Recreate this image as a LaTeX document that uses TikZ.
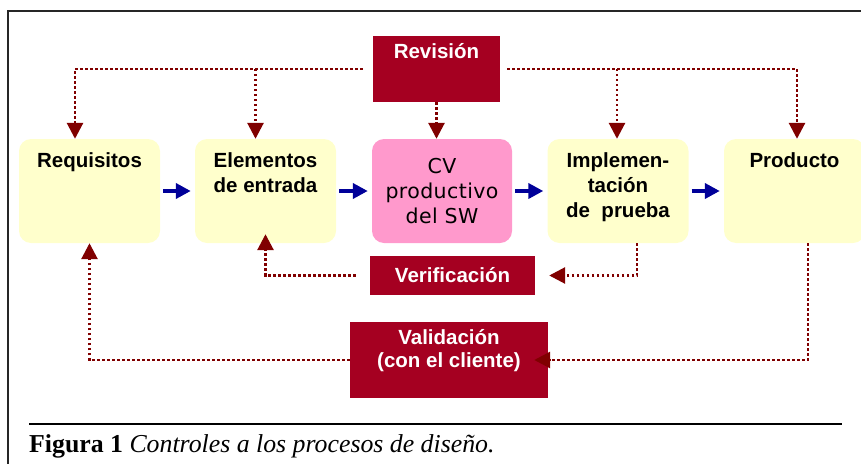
\documentclass[tikz,border=0pt]{standalone}
\usepackage{fontspec}
\setmainfont{Liberation Sans}
\newfontfamily\captionserif{Liberation Serif}
\newfontfamily\cvfont[LetterSpace=2]{DejaVu Sans}
\usetikzlibrary{arrows.meta}
\definecolor{amarillo}{HTML}{FFFFCC}
\definecolor{rosa}{HTML}{FF99CC}
\definecolor{granate}{HTML}{A50021}
\definecolor{puntos}{HTML}{800000}
\definecolor{azul}{HTML}{000099}
\tikzset{
  etapa/.style={fill=amarillo, rounded corners=12pt, minimum width=141pt, minimum height=104pt, inner sep=0pt},
  control/.style={fill=granate, text=white, inner sep=0pt, font=\bfseries\fontsize{20.5}{24}\selectfont, align=center},
  titulo/.style={anchor=north, inner sep=0pt, align=center, font=\bfseries\fontsize{20.5}{25}\selectfont},
  flujo/.style={draw=azul, line width=4.5pt, -{Triangle[length=15pt,width=15pt]}, shorten <=3pt, shorten >=4pt},
  retro/.style={draw=puntos, line width=2.8pt, dash pattern=on 2.4pt off 2.6pt, -{Triangle[length=16pt,width=16pt]}}
}
\begin{document}
\begin{tikzpicture}[x=1pt, y=-1pt]
\useasboundingbox (0,0) rectangle (861,463);
\draw[line width=2pt, draw=black!85] (8,470) |- (870,11);

\node (req) at (89.5,191) [etapa, label={[titulo, yshift=-14pt]north:Requisitos}] {};
\node (ent) at (265.5,191) [etapa, label={[titulo, yshift=-14pt]north:Elementos\\de entrada}] {};
\node (cv) at (442,191) [etapa, fill=rosa, minimum width=140pt, align=center, font=\cvfont\fontsize{20.5}{25}\selectfont] {CV\\productivo\\del SW};
\node (imp) at (618,191) [etapa, label={[titulo, yshift=-14pt]north:Implemen-\\tación\\de~~prueba}] {};
\node (prod) at (794.5,191) [etapa, label={[titulo, yshift=-14pt]north:Producto}] {};

\node (rev) at (436.5,69) [control, minimum width=127pt, minimum height=66pt, label={[titulo, text=white, yshift=-7pt]north:Revisión}] {};
\node (ver) at (452.5,275.5) [control, minimum width=165pt, minimum height=39pt] {Verificación};
\node (val) at (449,360) [control, minimum width=198pt, minimum height=76pt, label={[titulo, text=white, yshift=-7.5pt, font=\bfseries\fontsize{20.5}{23}\selectfont]north:Validación\\(con el cliente)}] {};

\draw[flujo] (req.east) -- (ent.west);
\draw[flujo] (ent.east) -- (cv.west);
\draw[flujo] (cv.east) -- (imp.west);
\draw[flujo] (imp.east) -- (prod.west);

\draw[retro, shorten <=10pt] (rev.west) -| ([xshift=-14.5pt]req.north);
\draw[retro] ([xshift=-10pt]ent.north |- rev.west) -- ([xshift=-10pt]ent.north);
\draw[retro] (rev.south) -- (rev.south |- cv.north);
\draw[retro, shorten <=7pt] (rev.east) -| ([xshift=2.5pt]prod.north);
\draw[retro] ([xshift=-1pt]imp.north |- rev.east) -- ([xshift=-1pt]imp.north);
\draw[retro, shorten >=14pt] ([xshift=19pt]imp.south) |- (ver.east);
\draw[retro, shorten <=14pt, shorten >=-9pt] (ver.west) -| (ent.south);
\draw[retro, shorten >=-14pt] ([xshift=13.5pt]prod.south) |- (val.east);
\draw[retro] (val.west) -| (req.south);

\draw[line width=1.5pt] (29,424) -- (842,424);
\node (pie) at (29,452) [anchor=base west, inner sep=0pt, font=\captionserif\fontsize{25.8}{30}\selectfont] {\textbf{Figura 1} \textit{Controles a los procesos de diseño.}};
\end{tikzpicture}
\end{document}
